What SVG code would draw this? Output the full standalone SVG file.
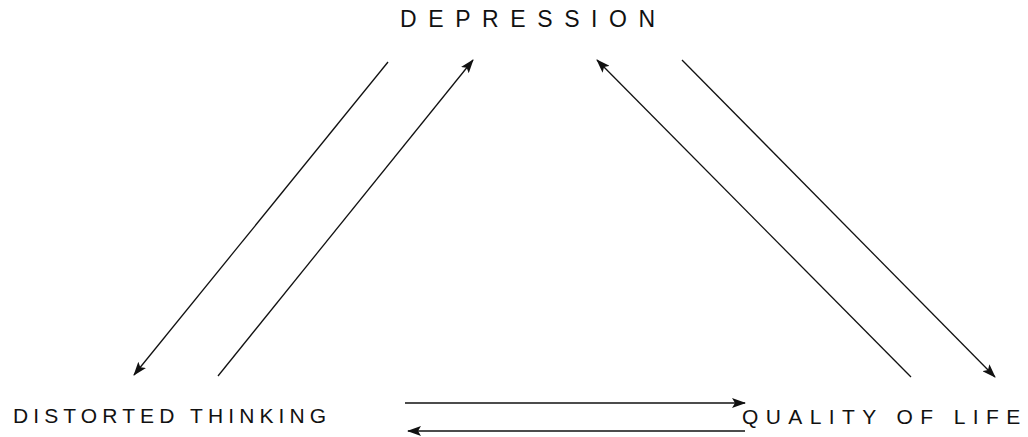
<svg xmlns="http://www.w3.org/2000/svg" width="1028" height="437" viewBox="0 0 1028 437">
<defs>
<marker id="ah" markerWidth="14" markerHeight="10" refX="13" refY="5" orient="auto" markerUnits="userSpaceOnUse">
<path d="M0,0 L14,5 L0,10 L3,5 Z" fill="#111"/>
</marker>
<style>
.lbl{font-family:"Liberation Sans",Arial,sans-serif;fill:#111}
.c{stroke:#111;stroke-width:1.3;fill:none;marker-end:url(#ah)}
</style>
</defs>
<rect width="1028" height="437" fill="#fff"/>
<g id="depression"><text class="lbl" x="400" y="27" font-size="23" style="letter-spacing:11.6px">DEPRESSION</text></g>
<g id="distorted-thinking"><text class="lbl" x="13" y="423" font-size="21" style="letter-spacing:5.1px">DISTORTED THINKING</text></g>
<g id="quality-of-life"><text class="lbl" x="742" y="424" font-size="21" style="letter-spacing:7.4px">QUALITY OF LIFE</text></g>
<g id="connectors">
<line class="c" x1="388" y1="62" x2="134" y2="375"/>
<line class="c" x1="218" y1="376" x2="473" y2="60"/>
<line class="c" x1="911" y1="377" x2="597" y2="60"/>
<line class="c" x1="682" y1="60" x2="995" y2="377"/>
<line class="c" x1="405" y1="403" x2="745" y2="403"/>
<line class="c" x1="745" y1="431" x2="408" y2="431"/>
</g>
</svg>
